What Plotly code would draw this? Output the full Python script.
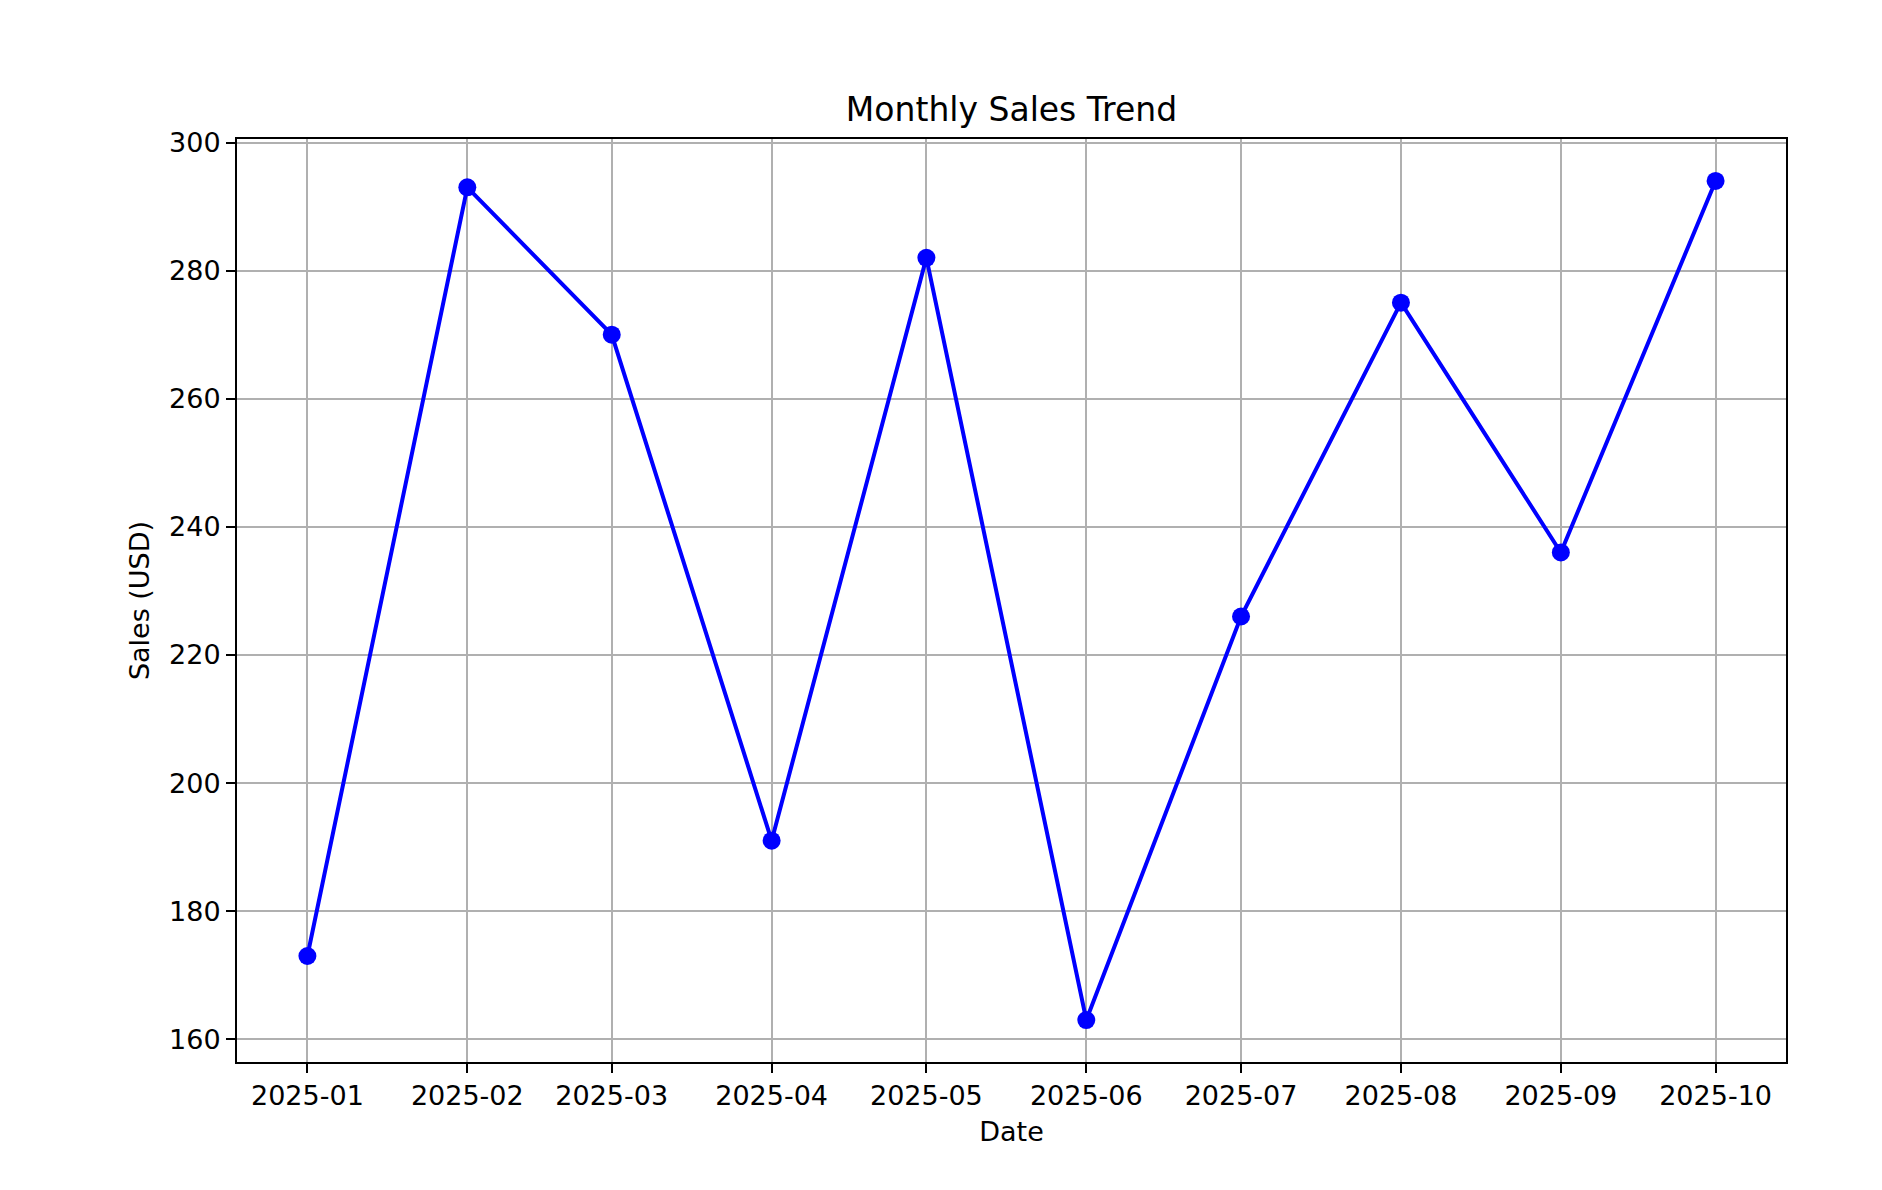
import plotly.graph_objects as go

dates = ["2025-01-01", "2025-02-01", "2025-03-01", "2025-04-01", "2025-05-01",
         "2025-06-01", "2025-07-01", "2025-08-01", "2025-09-01", "2025-10-01"]
tick_labels = ["2025-01", "2025-02", "2025-03", "2025-04", "2025-05",
               "2025-06", "2025-07", "2025-08", "2025-09", "2025-10"]
sales = [173, 293, 270, 191, 282, 163, 226, 275, 236, 294]
y_ticks = [160, 180, 200, 220, 240, 260, 280, 300]

FONT = "DejaVu Sans"

fig = go.Figure()
fig.add_trace(go.Scatter(
    x=dates, y=sales, mode="lines+markers",
    line=dict(color="#0000ff", width=4),
    marker=dict(color="#0000ff", size=18),
    showlegend=False,
))

axis_common = dict(
    showline=True, linecolor="black", linewidth=2, mirror=True,
    ticks="outside", ticklen=9, tickwidth=2, tickcolor="black",
    showgrid=True, gridcolor="#b0b0b0", gridwidth=2,
    zeroline=False,
    tickfont=dict(family=FONT, size=27, color="black"),
)

fig.update_layout(
    width=1882, height=1190,
    paper_bgcolor="white", plot_bgcolor="white",
    margin=dict(l=229, r=104, t=131, b=136),
    font=dict(family=FONT, color="black"),
    title=dict(text="Monthly Sales Trend", x=0.5, xref="paper",
               y=1 - 101 / 1190, yref="container", yanchor="middle",
               font=dict(family=FONT, size=33, color="black")),
    xaxis=dict(type="date", range=["2024-12-18 08:24", "2025-10-14 15:36"],
               tickvals=dates, ticktext=tick_labels,
               title=dict(text="Date", font=dict(family=FONT, size=27), standoff=12),
               **axis_common),
    yaxis=dict(range=[156.45, 300.55], tickvals=y_ticks,
               title=dict(text="Sales (USD)", font=dict(family=FONT, size=27), standoff=12),
               **axis_common),
)

fig.write_html("out.html")
